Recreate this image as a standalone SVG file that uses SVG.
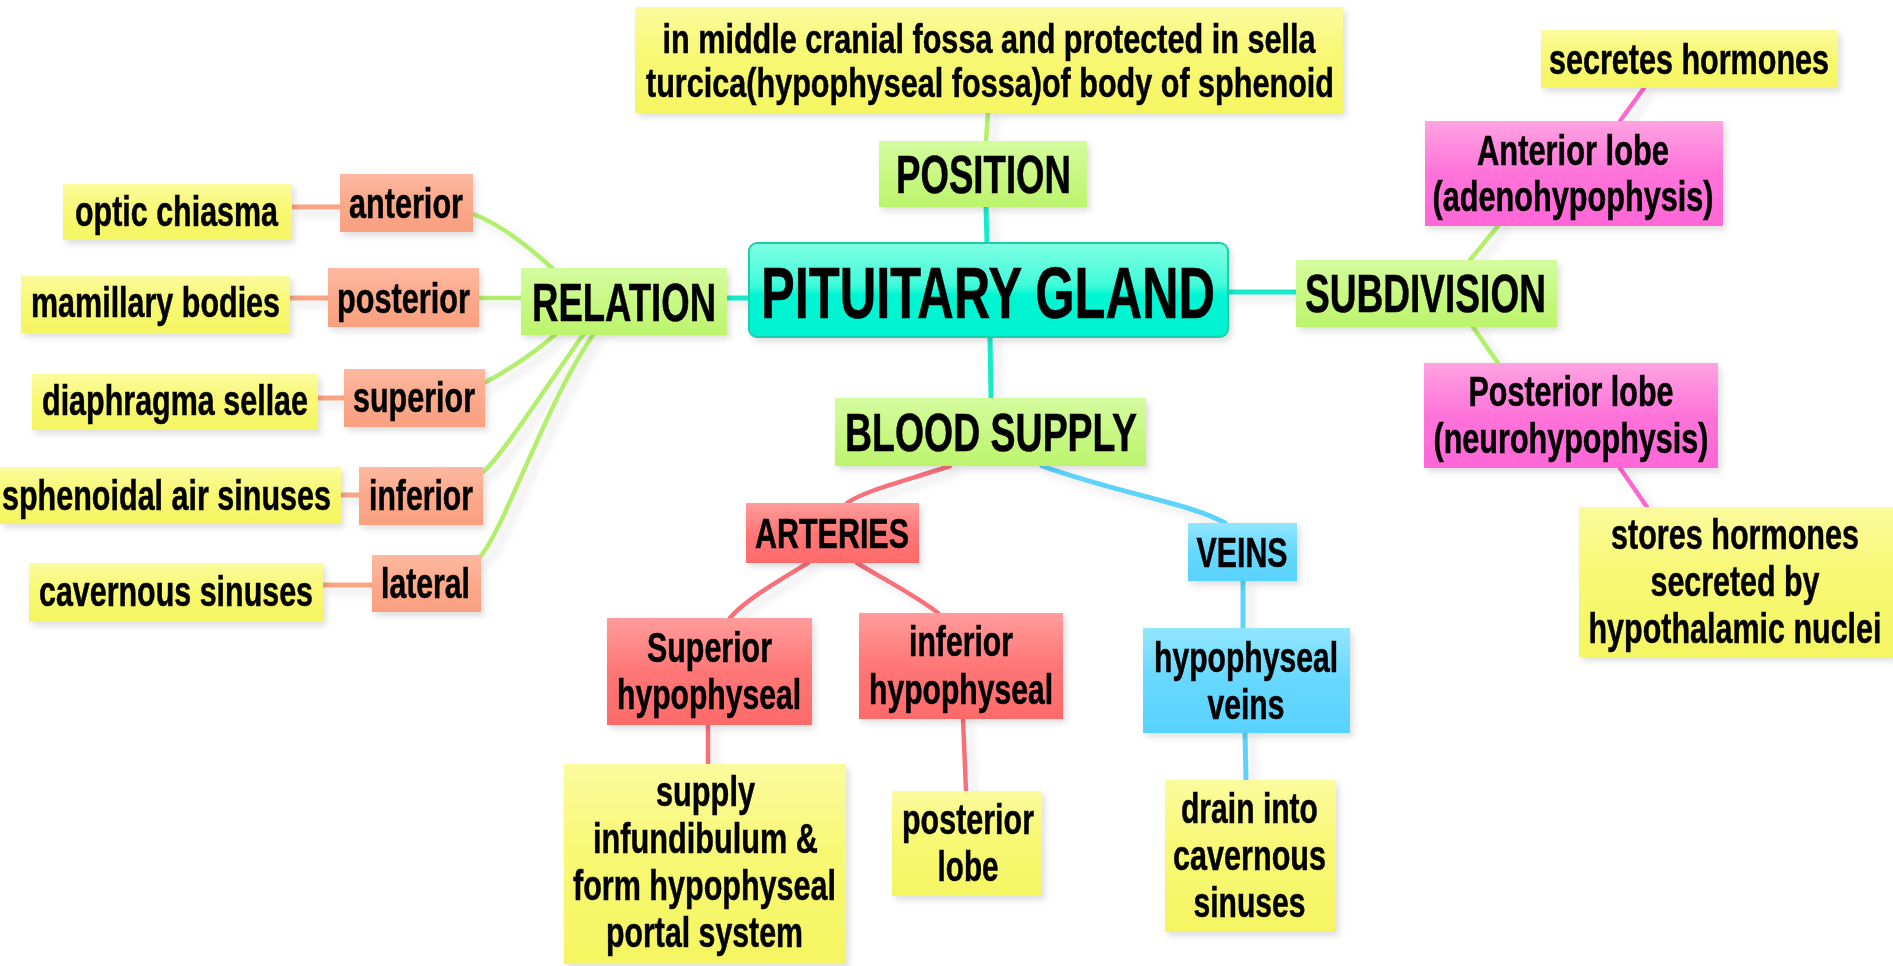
<svg xmlns="http://www.w3.org/2000/svg" width="1893" height="966" viewBox="0 0 1893 966">
<defs>
  <linearGradient id="gY" x1="0" y1="0" x2="0" y2="1"><stop offset="0" stop-color="#fbfb9e"/><stop offset="0.45" stop-color="#f8f874"/><stop offset="1" stop-color="#f5f562"/></linearGradient>
  <linearGradient id="gG" x1="0" y1="0" x2="0" y2="1"><stop offset="0" stop-color="#d4fc9f"/><stop offset="0.5" stop-color="#c8f884"/><stop offset="1" stop-color="#bcf46c"/></linearGradient>
  <linearGradient id="gS" x1="0" y1="0" x2="0" y2="1"><stop offset="0" stop-color="#fdb9a0"/><stop offset="0.5" stop-color="#fba98b"/><stop offset="1" stop-color="#f9a080"/></linearGradient>
  <linearGradient id="gP" x1="0" y1="0" x2="0" y2="1"><stop offset="0" stop-color="#ffa3e2"/><stop offset="0.5" stop-color="#ff73d9"/><stop offset="1" stop-color="#ff66d6"/></linearGradient>
  <linearGradient id="gR" x1="0" y1="0" x2="0" y2="1"><stop offset="0" stop-color="#ff9c9c"/><stop offset="0.5" stop-color="#ff7676"/><stop offset="1" stop-color="#ff6a6a"/></linearGradient>
  <linearGradient id="gB" x1="0" y1="0" x2="0" y2="1"><stop offset="0" stop-color="#92e6ff"/><stop offset="0.5" stop-color="#66d8ff"/><stop offset="1" stop-color="#58d2fd"/></linearGradient>
  <linearGradient id="gC" x1="0" y1="0" x2="0" y2="1"><stop offset="0" stop-color="#80ffe3"/><stop offset="0.45" stop-color="#40fbda"/><stop offset="0.55" stop-color="#00f6d3"/><stop offset="1" stop-color="#00f2cf"/></linearGradient>
  <filter id="nsh" x="-10%" y="-10%" width="125%" height="135%"><feDropShadow dx="3" dy="4" stdDeviation="3" flood-color="#000" flood-opacity="0.13"/></filter>
  <filter id="lsh" x="-5%" y="-5%" width="115%" height="115%"><feDropShadow dx="7" dy="6" stdDeviation="4" flood-color="#000" flood-opacity="0.10"/></filter>
</defs>
<style>
  .t{font-family:"Liberation Sans",Arial,Helvetica,sans-serif;font-weight:bold;fill:#000;stroke:#000;stroke-width:0.4px;text-anchor:middle}
  .s32{font-size:32px}.s39{font-size:39px}.s50{font-size:50px}
  .y{fill:url(#gY)}.g{fill:url(#gG)}.sa{fill:url(#gS)}.p{fill:url(#gP)}.r{fill:url(#gR)}.b{fill:url(#gB)}
  .gl{fill:url(#gC);stroke:#1fcfab;stroke-width:2}
  .node{filter:url(#nsh)}
  .c{fill:none;stroke-linecap:round}
  .cg{stroke:#b3ef6c;stroke-width:4.5}
  .cs{stroke:#f9a584;stroke-width:5}
  .cc{stroke:#17ecc9;stroke-width:5}
  .cp{stroke:#ff66d2;stroke-width:4.5}
  .cr{stroke:#f7707a;stroke-width:4.5}
  .cb{stroke:#5cd3fb;stroke-width:5}
</style>
<rect width="1893" height="966" fill="#ffffff"/>

<g id="connectors" filter="url(#lsh)">
  <path class="c cg" d="M988,113 L986,141"/>
  <path class="c cc" d="M986,207 L987,243"/>
  <path class="c cc" d="M990,337 L991,398"/>
  <path class="c cc" d="M727,298 L749,298"/>
  <path class="c cc" d="M1228,292 L1296,292"/>
  <path class="c cg" d="M473,214 C500,224 528,246 552,268"/>
  <path class="c cg" d="M479,298 L521,298"/>
  <path class="c cg" d="M486,382 C512,368 535,352 555,335"/>
  <path class="c cg" d="M483,472 C502,456 548,384 583,335"/>
  <path class="c cg" d="M480,557 C505,528 545,405 593,335"/>
  <path class="c cs" d="M292,207 L340,207"/>
  <path class="c cs" d="M290,298 L328,298"/>
  <path class="c cs" d="M318,398 L344,398"/>
  <path class="c cs" d="M341,495 L359,495"/>
  <path class="c cs" d="M323,585 L372,585"/>
  <path class="c cg" d="M1470,260 L1498,226"/>
  <path class="c cg" d="M1473,327 L1498,363"/>
  <path class="c cp" d="M1620,121 L1644,88"/>
  <path class="c cp" d="M1620,468 L1647,507"/>
  <path class="c cr" d="M950,466 C905,481 866,490 847,503"/>
  <path class="c cb" d="M1042,466 C1120,494 1190,503 1225,523"/>
  <path class="c cr" d="M808,563 C780,580 745,600 730,618"/>
  <path class="c cr" d="M857,563 C885,580 915,595 938,613"/>
  <path class="c cr" d="M708,725 L708,764"/>
  <path class="c cr" d="M963,719 L966,791"/>
  <path class="c cb" d="M1243,581 L1243,628"/>
  <path class="c cb" d="M1245,733 L1246,780"/>
</g>

<g id="n-position-desc" class="node">
  <rect class="y" x="635" y="7" width="708" height="106"/>
  <text class="t s32" transform="translate(989,53) scale(1,1.25)" textLength="653" lengthAdjust="spacingAndGlyphs">in middle cranial fossa and protected in sella</text>
  <text class="t s32" transform="translate(990,97) scale(1,1.25)" textLength="688" lengthAdjust="spacingAndGlyphs">turcica(hypophyseal fossa)of body of sphenoid</text>
</g>
<g id="n-position" class="node">
  <rect class="g" x="879" y="141" width="208" height="66"/>
  <text class="t s39" transform="translate(983.5,193) scale(1,1.359)" textLength="175" lengthAdjust="spacingAndGlyphs">POSITION</text>
</g>
<g id="n-gland" class="node">
  <rect class="gl" x="749" y="243" width="479" height="94" rx="8" ry="8"/>
  <text class="t s50" transform="translate(988,318) scale(1,1.46)" textLength="454" lengthAdjust="spacingAndGlyphs">PITUITARY GLAND</text>
</g>
<g id="n-relation" class="node">
  <rect class="g" x="521" y="268" width="206" height="67"/>
  <text class="t s39" transform="translate(624,321) scale(1,1.359)" textLength="184" lengthAdjust="spacingAndGlyphs">RELATION</text>
</g>
<g id="n-subdivision" class="node">
  <rect class="g" x="1296" y="260" width="261" height="67"/>
  <text class="t s39" transform="translate(1425.5,312) scale(1,1.359)" textLength="241" lengthAdjust="spacingAndGlyphs">SUBDIVISION</text>
</g>
<g id="n-blood" class="node">
  <rect class="g" x="835" y="398" width="311" height="68"/>
  <text class="t s39" transform="translate(991,451) scale(1,1.359)" textLength="292" lengthAdjust="spacingAndGlyphs">BLOOD SUPPLY</text>
</g>

<g id="n-secretes" class="node">
  <rect class="y" x="1541" y="30" width="297" height="58"/>
  <text class="t s32" transform="translate(1689,74) scale(1,1.3125)" textLength="280" lengthAdjust="spacingAndGlyphs">secretes hormones</text>
</g>
<g id="n-anterior-lobe" class="node">
  <rect class="p" x="1425" y="121" width="298" height="105"/>
  <text class="t s32" transform="translate(1573,165) scale(1,1.3125)" textLength="192" lengthAdjust="spacingAndGlyphs">Anterior lobe</text>
  <text class="t s32" transform="translate(1573,211) scale(1,1.3125)" textLength="281" lengthAdjust="spacingAndGlyphs">(adenohypophysis)</text>
</g>
<g id="n-posterior-lobe" class="node">
  <rect class="p" x="1424" y="363" width="294" height="105"/>
  <text class="t s32" transform="translate(1571,406) scale(1,1.3125)" textLength="205" lengthAdjust="spacingAndGlyphs">Posterior lobe</text>
  <text class="t s32" transform="translate(1571,453) scale(1,1.3125)" textLength="275" lengthAdjust="spacingAndGlyphs">(neurohypophysis)</text>
</g>
<g id="n-stores" class="node">
  <rect class="y" x="1579" y="507" width="314" height="150"/>
  <text class="t s32" transform="translate(1735,549) scale(1,1.3125)" textLength="248" lengthAdjust="spacingAndGlyphs">stores hormones</text>
  <text class="t s32" transform="translate(1735,596) scale(1,1.3125)" textLength="169" lengthAdjust="spacingAndGlyphs">secreted by</text>
  <text class="t s32" transform="translate(1735,643) scale(1,1.3125)" textLength="293" lengthAdjust="spacingAndGlyphs">hypothalamic nuclei</text>
</g>

<g id="n-arteries" class="node">
  <rect class="r" x="746" y="503" width="173" height="60"/>
  <text class="t s32" transform="translate(832,548) scale(1,1.3125)" textLength="154" lengthAdjust="spacingAndGlyphs">ARTERIES</text>
</g>
<g id="n-veins" class="node">
  <rect class="b" x="1188" y="523" width="109" height="58"/>
  <text class="t s32" transform="translate(1242,567) scale(1,1.3125)" textLength="91" lengthAdjust="spacingAndGlyphs">VEINS</text>
</g>
<g id="n-sup-hyp" class="node">
  <rect class="r" x="607" y="618" width="205" height="107"/>
  <text class="t s32" transform="translate(709.5,662) scale(1,1.3125)" textLength="125" lengthAdjust="spacingAndGlyphs">Superior</text>
  <text class="t s32" transform="translate(709,709) scale(1,1.3125)" textLength="184" lengthAdjust="spacingAndGlyphs">hypophyseal</text>
</g>
<g id="n-inf-hyp" class="node">
  <rect class="r" x="859" y="613" width="204" height="106"/>
  <text class="t s32" transform="translate(961,656) scale(1,1.3125)" textLength="104" lengthAdjust="spacingAndGlyphs">inferior</text>
  <text class="t s32" transform="translate(961,704) scale(1,1.3125)" textLength="184" lengthAdjust="spacingAndGlyphs">hypophyseal</text>
</g>
<g id="n-hyp-veins" class="node">
  <rect class="b" x="1143" y="628" width="207" height="105"/>
  <text class="t s32" transform="translate(1246,672) scale(1,1.3125)" textLength="184" lengthAdjust="spacingAndGlyphs">hypophyseal</text>
  <text class="t s32" transform="translate(1246,719) scale(1,1.3125)" textLength="77" lengthAdjust="spacingAndGlyphs">veins</text>
</g>
<g id="n-supply" class="node">
  <rect class="y" x="564" y="764" width="282" height="200"/>
  <text class="t s32" transform="translate(705.5,806) scale(1,1.3125)" textLength="99" lengthAdjust="spacingAndGlyphs">supply</text>
  <text class="t s32" transform="translate(705.5,853) scale(1,1.3125)" textLength="225" lengthAdjust="spacingAndGlyphs">infundibulum &amp;</text>
  <text class="t s32" transform="translate(704.5,900) scale(1,1.3125)" textLength="263" lengthAdjust="spacingAndGlyphs">form hypophyseal</text>
  <text class="t s32" transform="translate(704.5,947) scale(1,1.3125)" textLength="197" lengthAdjust="spacingAndGlyphs">portal system</text>
</g>
<g id="n-post-lobe-leaf" class="node">
  <rect class="y" x="892" y="791" width="150" height="105"/>
  <text class="t s32" transform="translate(968,834) scale(1,1.3125)" textLength="132" lengthAdjust="spacingAndGlyphs">posterior</text>
  <text class="t s32" transform="translate(968,881) scale(1,1.3125)" textLength="61" lengthAdjust="spacingAndGlyphs">lobe</text>
</g>
<g id="n-drain" class="node">
  <rect class="y" x="1165" y="780" width="171" height="152"/>
  <text class="t s32" transform="translate(1249.5,823) scale(1,1.3125)" textLength="137" lengthAdjust="spacingAndGlyphs">drain into</text>
  <text class="t s32" transform="translate(1249.5,870) scale(1,1.3125)" textLength="153" lengthAdjust="spacingAndGlyphs">cavernous</text>
  <text class="t s32" transform="translate(1249.5,917) scale(1,1.3125)" textLength="112" lengthAdjust="spacingAndGlyphs">sinuses</text>
</g>

<g id="n-optic" class="node">
  <rect class="y" x="63" y="184" width="229" height="56"/>
  <text class="t s32" transform="translate(176.5,226) scale(1,1.3125)" textLength="203" lengthAdjust="spacingAndGlyphs">optic chiasma</text>
</g>
<g id="n-anterior" class="node">
  <rect class="sa" x="340" y="174" width="133" height="58"/>
  <text class="t s32" transform="translate(406,218) scale(1,1.3125)" textLength="114" lengthAdjust="spacingAndGlyphs">anterior</text>
</g>
<g id="n-mamillary" class="node">
  <rect class="y" x="21" y="276" width="269" height="57"/>
  <text class="t s32" transform="translate(155.5,317) scale(1,1.3125)" textLength="249" lengthAdjust="spacingAndGlyphs">mamillary bodies</text>
</g>
<g id="n-posterior" class="node">
  <rect class="sa" x="328" y="268" width="151" height="59"/>
  <text class="t s32" transform="translate(403.5,313) scale(1,1.3125)" textLength="133" lengthAdjust="spacingAndGlyphs">posterior</text>
</g>
<g id="n-diaphragma" class="node">
  <rect class="y" x="32" y="374" width="286" height="56"/>
  <text class="t s32" transform="translate(175,415) scale(1,1.3125)" textLength="266" lengthAdjust="spacingAndGlyphs">diaphragma sellae</text>
</g>
<g id="n-superior" class="node">
  <rect class="sa" x="344" y="369" width="141" height="58"/>
  <text class="t s32" transform="translate(414,412) scale(1,1.3125)" textLength="122" lengthAdjust="spacingAndGlyphs">superior</text>
</g>
<g id="n-sphenoidal" class="node">
  <rect class="y" x="0" y="467" width="341" height="57"/>
  <text class="t s32" transform="translate(166.5,510) scale(1,1.3125)" textLength="329" lengthAdjust="spacingAndGlyphs">sphenoidal air sinuses</text>
</g>
<g id="n-inferior" class="node">
  <rect class="sa" x="359" y="467" width="124" height="58"/>
  <text class="t s32" transform="translate(421,510) scale(1,1.3125)" textLength="104" lengthAdjust="spacingAndGlyphs">inferior</text>
</g>
<g id="n-cavernous" class="node">
  <rect class="y" x="29" y="563" width="294" height="59"/>
  <text class="t s32" transform="translate(176,606) scale(1,1.3125)" textLength="274" lengthAdjust="spacingAndGlyphs">cavernous sinuses</text>
</g>
<g id="n-lateral" class="node">
  <rect class="sa" x="372" y="555" width="109" height="57"/>
  <text class="t s32" transform="translate(425.5,598) scale(1,1.3125)" textLength="89" lengthAdjust="spacingAndGlyphs">lateral</text>
</g>
</svg>
